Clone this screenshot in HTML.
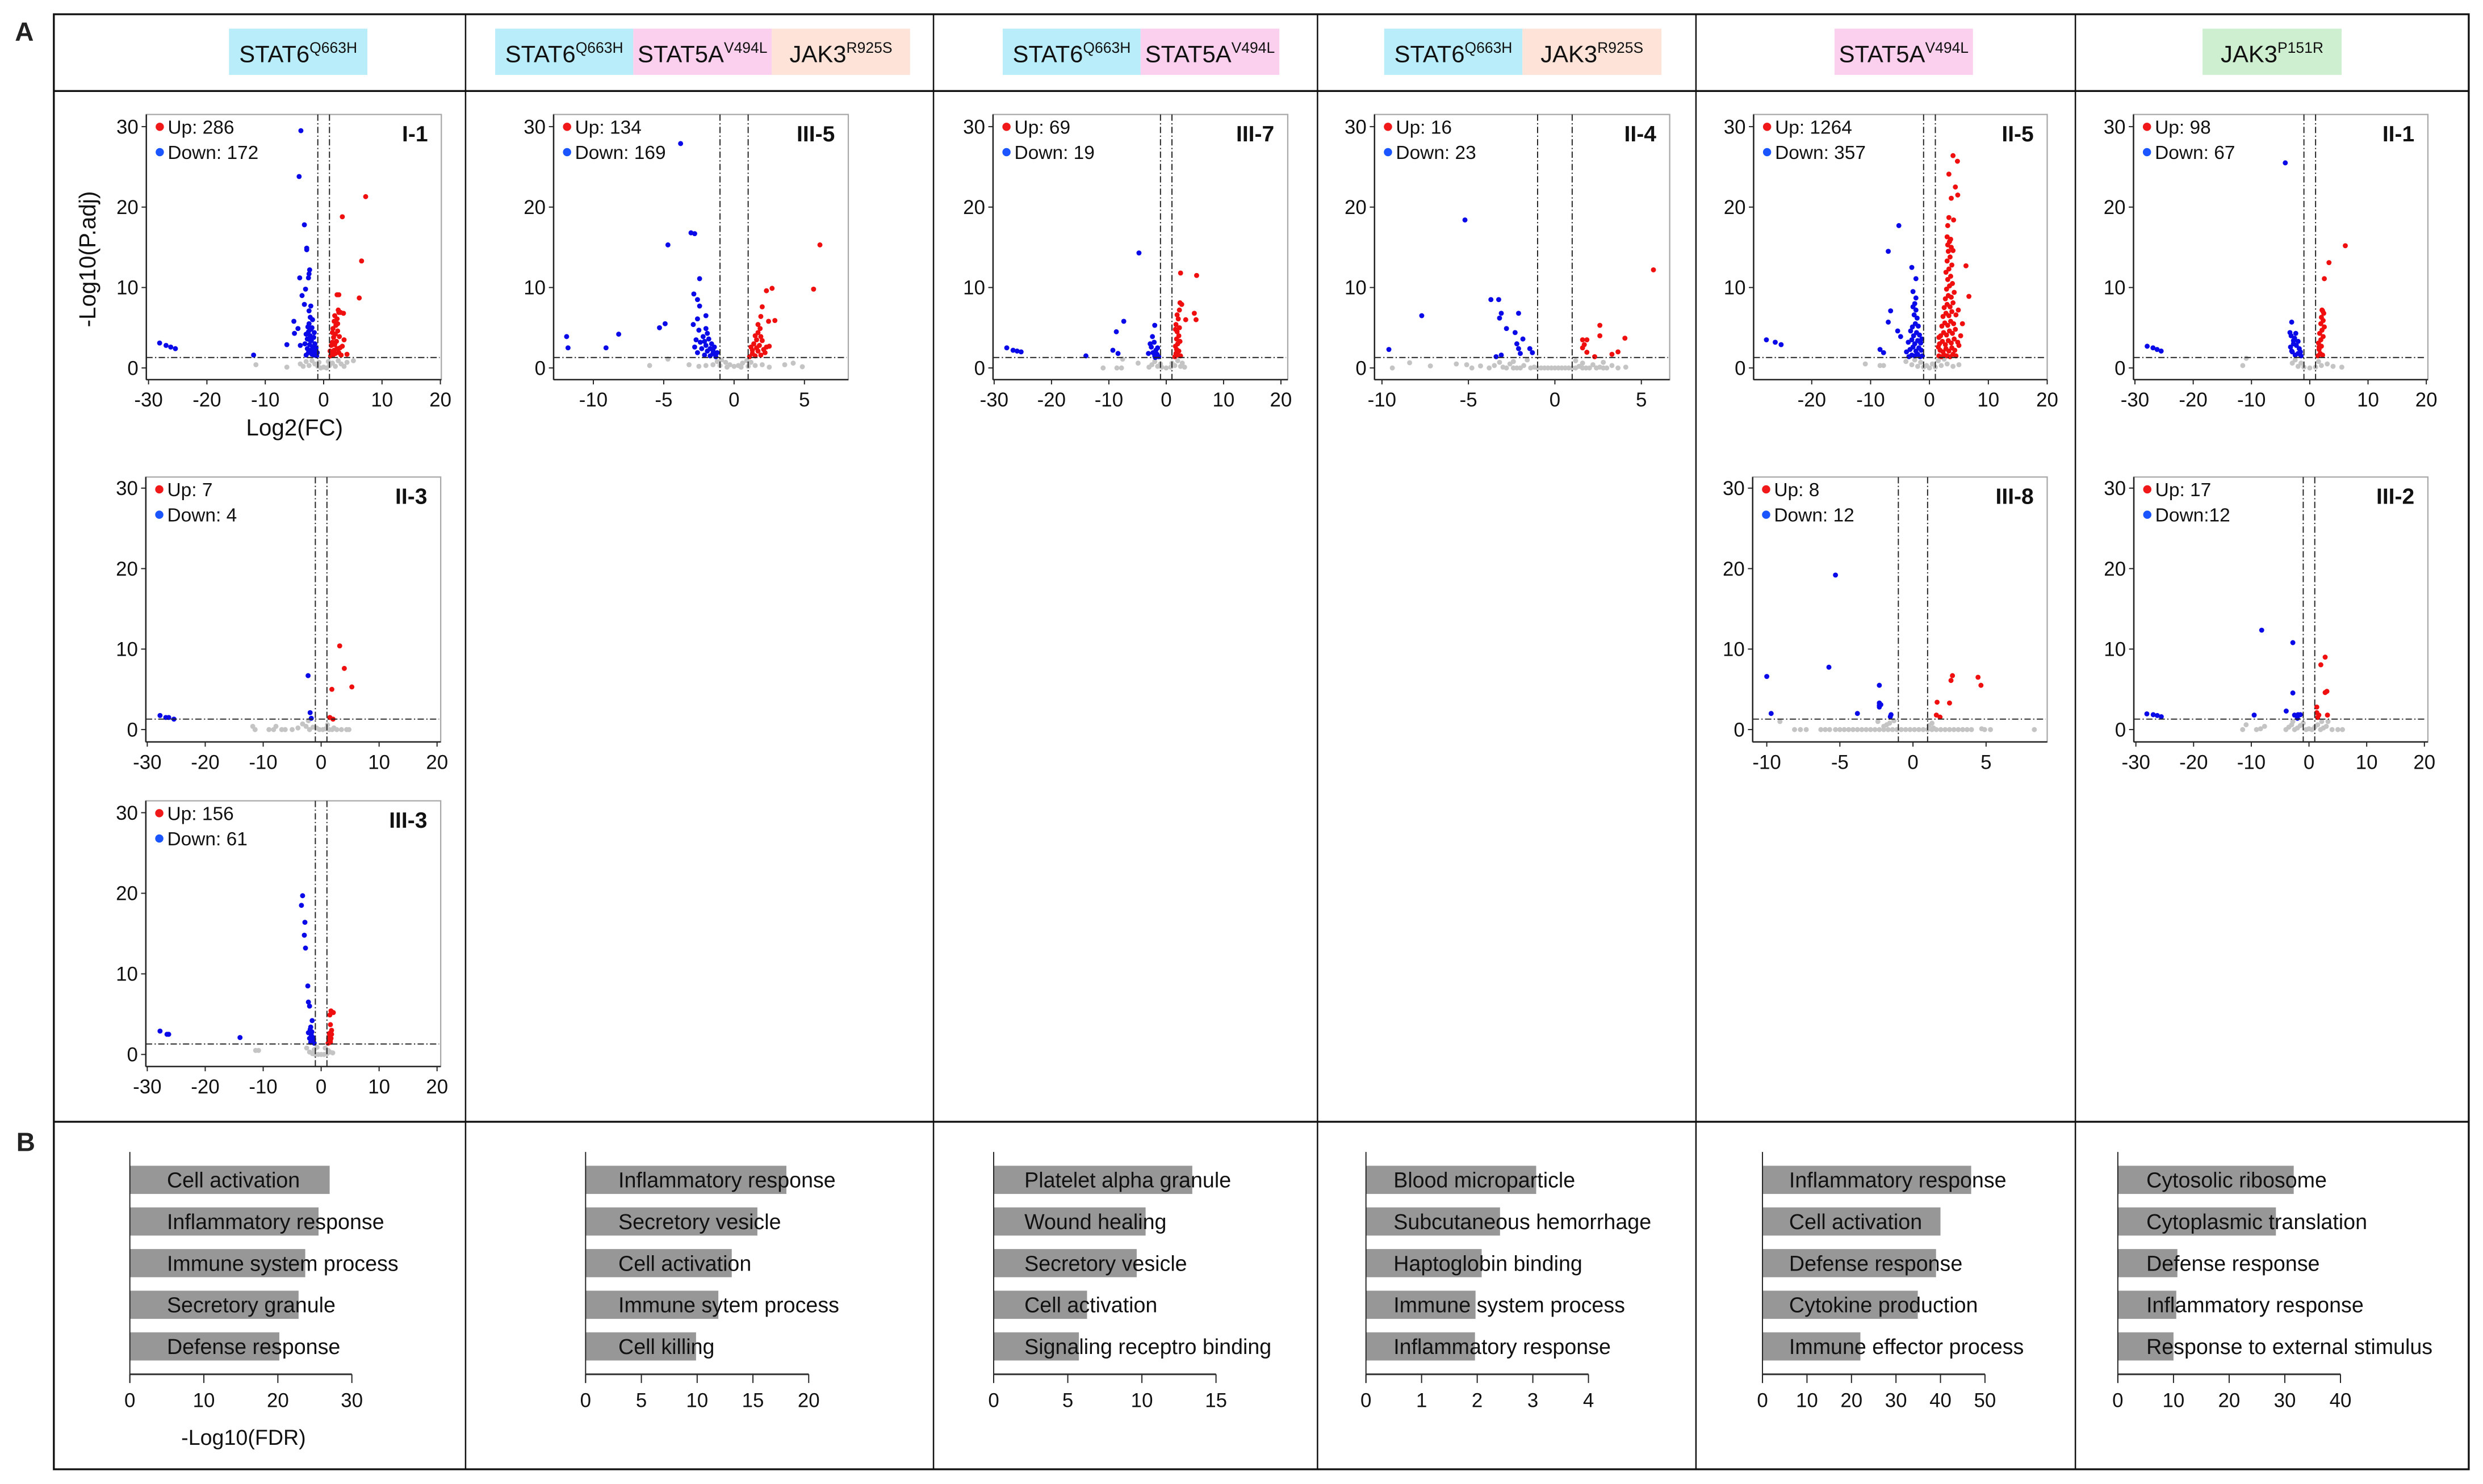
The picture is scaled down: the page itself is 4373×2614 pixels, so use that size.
<!DOCTYPE html>
<html><head><meta charset="utf-8"><style>
html,body{margin:0;padding:0;background:#fff;}
svg{display:block;font-family:"Liberation Sans",Arial,sans-serif;}
</style></head><body>
<svg id="fig" xmlns="http://www.w3.org/2000/svg" width="4373" height="2614" viewBox="0 0 1568 937.3" preserveAspectRatio="none">
<rect x="0" y="0" width="1568" height="937.3" fill="#fff"/>
<g stroke="#111" fill="none">
<rect x="34" y="9" width="1525" height="919" stroke-width="1.2"/>
<line x1="34" y1="57.5" x2="1559" y2="57.5" stroke-width="1.2"/>
<line x1="34" y1="708.5" x2="1559" y2="708.5" stroke-width="1.2"/>
<line x1="294" y1="9" x2="294" y2="928" stroke-width="0.9"/>
<line x1="589.5" y1="9" x2="589.5" y2="928" stroke-width="0.9"/>
<line x1="832" y1="9" x2="832" y2="928" stroke-width="0.9"/>
<line x1="1071" y1="9" x2="1071" y2="928" stroke-width="0.9"/>
<line x1="1310.6" y1="9" x2="1310.6" y2="928" stroke-width="0.9"/>
</g>
<text x="9.4" y="25.6" font-size="16.5" font-weight="bold" fill="#222">A</text>
<text x="10.3" y="727" font-size="16.5" font-weight="bold" fill="#222">B</text>
<g id="headers"></g>
<g id="volcanos"></g>
<g id="bars"></g>
</svg>
<script>
// ---------- volcano data: [log2FC, -log10(P.adj)] ----------
const I1_up=[[7.2,21.3],[3.2,18.8],[6.5,13.3],[6.1,8.7],[2.3,9.1],[2.6,9.1],[3.5,3.5],[4.0,1.7],[1.2,1.5],[1.4,1.9],[1.6,1.6],[1.8,2.2],[2.0,1.8],[2.3,2.4],[1.3,2.8],[1.5,3.2],[1.9,2.9],[2.2,3.3],[2.6,1.9],[2.8,2.5],[3.0,1.6],[1.7,3.8],[2.0,4.2],[2.4,4.6],[1.6,4.9],[2.1,5.3],[1.8,5.8],[2.3,6.1],[2.6,6.9],[2.9,6.9],[3.4,6.8],[2.5,7.2],[1.9,6.5],[1.5,4.4],[2.7,3.9],[3.2,2.7],[1.1,2.1],[2.4,5.5]];
const I1_down=[[-3.9,29.5],[-4.2,23.8],[-3.3,17.8],[-2.9,14.9],[-2.9,14.7],[-2.4,12.2],[-2.5,11.7],[-4.1,11.2],[-2.6,11.2],[-3.1,9.8],[-3.7,9.0],[-3.3,7.9],[-2.2,7.7],[-2.5,7.1],[-5.1,5.8],[-4.4,4.9],[-5.0,4.3],[-6.3,2.9],[-4.0,2.8],[-12,1.6],[-28.1,3.1],[-27,2.8],[-26.2,2.6],[-25.4,2.4],[-1.2,1.5],[-1.4,1.8],[-1.6,1.6],[-1.8,2.0],[-2.0,1.7],[-2.2,2.2],[-1.3,2.5],[-1.5,3.0],[-1.9,2.6],[-2.4,2.9],[-2.6,1.9],[-2.8,2.4],[-3.0,1.6],[-2.1,3.4],[-1.7,3.8],[-2.3,4.0],[-2.6,4.5],[-2.0,5.0],[-2.5,5.5],[-1.9,6.0],[-2.3,6.3],[-2.8,3.6],[-3.2,3.0],[-1.4,2.2],[-1.1,1.9],[-2.7,5.1],[-3.0,4.2],[-2.2,4.8],[-1.6,4.4],[-2.4,3.5]];
const I1_ns=[[-11.6,0.4],[-6.3,0.1],[5.1,0.9],[-4,0.5],[-3,0.8],[-2.5,0.3],[-2,0.9],[-1.5,0.5],[-1,0.2],[-0.5,0],[0,0.1],[0.5,0],[1,0.3],[1.5,0.6],[2,0.2],[2.5,0.9],[3,0.5],[3.5,0.2],[4,0.7],[-3.5,0.2],[-0.8,0.7],[0.8,0.8]];

const III5_up=[[6.1,15.3],[5.65,9.8],[2.7,9.9],[2.3,9.6],[2.0,7.6],[1.9,6.4],[2.9,5.9],[2.45,5.8],[1.7,5.4],[1.85,4.9],[2.5,2.7],[1.1,1.4],[1.3,1.8],[1.5,1.5],[1.7,2.1],[1.9,1.6],[2.1,2.3],[1.2,2.6],[1.4,3.0],[1.8,2.8],[2.2,1.9],[1.6,3.5],[2.0,3.4],[1.5,4.0],[1.7,4.4],[1.3,2.2],[2.3,2.6],[1.9,3.9],[1.6,2.5]];
const III5_down=[[-3.8,27.9],[-3.06,16.8],[-2.8,16.7],[-4.7,15.3],[-2.45,11.1],[-2.86,9.2],[-2.6,8.5],[-2.45,7.7],[-2,6.5],[-2.6,6.1],[-2.9,5.4],[-4.9,5.5],[-5.3,5.0],[-8.2,4.2],[-11.9,3.9],[-11.8,2.5],[-9.1,2.5],[-1.3,1.4],[-1.5,1.8],[-1.7,1.5],[-1.9,2.1],[-2.1,1.6],[-2.3,2.4],[-1.4,2.6],[-1.6,3.0],[-2.0,2.8],[-2.4,3.2],[-2.6,1.9],[-2.8,2.6],[-1.8,3.6],[-2.2,3.9],[-1.9,4.3],[-2.5,4.7],[-2.0,4.9],[-1.5,2.2],[-1.2,1.9],[-2.7,3.5],[-2.1,3.3],[-1.7,2.4]];
const III5_ns=[[-0.9,1.0],[-0.6,0.7],[-0.3,0.4],[0,0.2],[0.3,0.3],[0.6,0.6],[0.9,0.9],[-1.2,0.8],[1.2,0.7],[-1.5,0.4],[1.5,0.3],[-2,0.3],[2,0.4],[-0.5,0.1],[0.5,0.1],[-1,0.3],[1,0.2],[-2.5,0.2],[2.5,0.1],[4.2,0.6],[4.85,0.15],[-4.7,1.1],[-3.2,0.4],[-6,0.3],[3.6,0.4]];

const III7_up=[[2.5,11.8],[5.3,11.5],[2.4,8.1],[2.7,7.9],[4.9,6.8],[3.4,6.0],[5.2,6.0],[1.5,1.4],[1.7,1.8],[2.0,1.6],[1.8,2.3],[2.2,2.1],[1.6,2.7],[2.0,3.0],[1.8,3.6],[2.2,4.0],[1.9,4.5],[2.3,5.0],[1.7,5.4],[2.1,6.1],[1.9,6.6],[2.3,7.2],[2.5,1.5],[1.6,4.8],[2.4,3.3]];
const III7_down=[[-4.75,14.3],[-7.4,5.8],[-8.7,4.5],[-2,5.3],[-2.4,3.9],[-2.8,3.0],[-3.1,1.8],[-9.3,2.2],[-8.4,1.8],[-14,1.5],[-27.8,2.5],[-26.7,2.2],[-26,2.1],[-25.3,2.0],[-1.3,1.4],[-1.6,1.7],[-2.0,1.5],[-1.8,2.2],[-2.3,1.9],[-1.5,2.5],[-2.6,2.6],[-2.1,3.2],[-1.9,1.3]];
const III7_ns=[[-11,0],[-8.6,0],[-7.8,0],[-4.9,0.6],[-7.6,1.1],[-2.5,0.4],[-1.5,0.2],[-0.8,0.1],[0,0],[0.8,0.1],[1.5,0.3],[2.5,0.2],[3.2,0.1],[-2,0.8],[-1,0.5],[1,0.6],[2,0.9],[-3,0.1],[2.8,0.6]];

const II4_up=[[5.7,12.2],[2.6,5.3],[4.05,3.7],[2.6,4.0],[1.6,3.5],[1.85,3.5],[1.7,2.9],[1.6,2.5],[1.85,1.95],[3.65,2.0],[3.3,1.7],[2.3,1.4]];
const II4_down=[[-5.2,18.4],[-7.7,6.5],[-9.6,2.3],[-3.7,8.5],[-3.25,8.5],[-3.1,6.8],[-3.2,6.2],[-2.1,6.8],[-2.8,4.9],[-2.3,4.4],[-1.85,3.6],[-2.2,3.0],[-2.1,2.4],[-1.45,2.4],[-3.1,1.6],[-3.4,1.4],[-2,1.8],[-1.3,1.9]];
const II4_ns=[[-9.4,0],[-8.4,0.65],[-7.2,0.25],[-5.7,0.5],[-5.1,0.4],[-4.8,0],[-4.3,0.25],[-3.8,0],[-3.5,0.3],[-3.0,0.1],[-2.6,0.5],[-2.2,0],[-1.8,0.3],[-1.4,0],[-1.0,0],[-0.6,0],[-0.2,0],[0.2,0],[0.6,0],[1.0,0],[1.4,0.2],[1.8,0],[2.2,0.4],[2.6,0.1],[3.0,0],[3.3,0.3],[3.65,0],[4.1,0.1],[-2.4,0.8],[-1.6,1.0],[1.2,0.9],[1.6,0.6],[2.8,0.7],[-3.2,0.7],[-2.8,0],[-2.4,0],[-2,0],[-1.2,0.1],[-0.8,0],[-0.4,0],[0,0],[0.4,0],[0.8,0],[1.2,0],[1.6,0],[2.0,0],[2.4,0],[2.8,0]];

const II5_up=[[4,26.4],[4.75,25.7],[3.3,24.1],[4.4,22.5],[4.8,21.5],[3.7,21.1],[3.3,18.7],[4.1,18.4],[3.1,17.7],[3.6,16.0],[3.1,15.3],[4,14.6],[6.2,12.7],[6.7,8.9],[1.6,1.5],[2.0,1.4],[2.5,1.6],[3.0,1.5],[3.5,1.4],[4.0,1.7],[4.5,1.5],[1.8,2.2],[2.3,2.0],[2.8,2.4],[3.3,2.1],[3.8,2.5],[4.3,2.2],[1.7,3.0],[2.2,3.3],[2.7,2.9],[3.2,3.4],[3.7,3.1],[4.2,3.6],[4.8,3.2],[1.9,4.0],[2.4,4.4],[2.9,4.1],[3.4,4.6],[3.9,4.3],[4.4,4.8],[2.1,5.2],[2.6,5.6],[3.1,5.3],[3.6,5.8],[4.1,5.5],[2.3,6.4],[2.8,6.8],[3.3,6.5],[3.8,7.0],[4.5,6.6],[2.5,7.5],[3.0,7.9],[3.5,7.6],[4.0,8.1],[2.7,8.6],[3.2,9.0],[3.7,8.8],[4.2,9.4],[2.9,9.8],[3.4,10.2],[3.9,10.5],[3.1,11.0],[3.6,11.4],[2.8,11.9],[3.3,12.3],[3.8,12.8],[3.0,13.3],[3.5,13.8],[3.2,14.5],[3.7,15.0],[3.4,15.7],[3.0,16.3],[5.0,2.8],[5.3,4.0],[5.6,5.5],[4.9,7.2],[1.5,2.6],[1.6,3.8]];
const II5_down=[[-5.2,17.7],[-7,14.5],[-3,12.5],[-2.3,11.1],[-2.8,9.5],[-2.3,8.7],[-6.6,7.1],[-7,5.7],[-5.4,4.6],[-4.9,3.9],[-8.4,2.3],[-7.8,1.9],[-27.7,3.5],[-26.2,3.2],[-25.2,2.9],[-1.2,1.5],[-1.6,1.4],[-2.0,1.7],[-2.5,1.5],[-3.0,1.6],[-3.5,1.4],[-1.4,2.2],[-1.8,2.5],[-2.3,2.1],[-2.8,2.6],[-3.3,2.3],[-3.9,2.0],[-1.5,3.1],[-2.0,3.4],[-2.5,3.0],[-3.0,3.5],[-3.6,3.2],[-1.7,4.1],[-2.2,4.4],[-2.7,4.0],[-3.2,4.6],[-1.9,5.2],[-2.4,5.5],[-2.9,5.1],[-2.1,6.2],[-2.6,6.6],[-2.3,7.2],[-2.8,7.6],[-2.5,8.0],[-1.3,3.6]];
const II5_ns=[[-10.9,0.5],[-8.4,0.3],[-7.8,0.3],[-4,0.8],[-3,0.4],[-2,0.2],[-1,0.1],[0,0],[1,0.1],[2,0.3],[3,0.5],[4,0.2],[5,0.4],[-2.5,1.0],[-1.5,0.7],[0.5,0.5],[1.5,0.9],[2.5,1.1],[-0.5,0.3]];

const II1_up=[[6.1,15.2],[3.3,13.1],[2.5,11.1],[2.1,7.2],[1.4,1.5],[1.8,1.8],[2.2,1.6],[1.6,2.3],[2.0,2.7],[1.5,3.1],[1.9,3.5],[2.3,3.9],[1.7,4.3],[2.1,4.7],[2.5,5.1],[1.9,5.5],[2.3,5.9],[2.0,6.3],[2.4,6.8],[2.2,7.1],[1.6,2.6]];
const II1_down=[[-4.2,25.5],[-3.1,5.7],[-3.4,4.4],[-2.8,3.4],[-3.1,2.1],[-27.9,2.7],[-26.9,2.5],[-26.2,2.3],[-25.5,2.1],[-1.5,1.5],[-2.0,1.8],[-2.5,1.6],[-3.0,2.0],[-1.8,2.4],[-2.3,2.8],[-2.8,3.0],[-3.3,2.6],[-2.0,3.3],[-2.6,3.7],[-3.2,4.0],[-2.4,4.3],[-1.6,2.0]];
const II1_ns=[[-11.5,0.3],[-10.9,1.2],[5.5,0.1],[-3,0.6],[-2,0.2],[-1,0.1],[0,0],[1,0.1],[2,0.3],[3,0.5],[4,0.2],[-2.5,1.0],[1.5,0.8],[-1.5,0.6]];

const II3_up=[[3.2,10.4],[4,7.6],[5.3,5.3],[1.85,5.0],[1.5,1.5],[2.05,1.3]];
const II3_down=[[-2.25,6.7],[-1.9,2.1],[-1.7,1.4],[-27.8,1.75],[-26.8,1.5],[-26.3,1.5],[-25.4,1.3]];
const II3_ns=[[-11.8,0.4],[-11.4,0],[-9,0],[-8.2,0],[-7.8,0.4],[-6.8,0],[-6.2,0],[-5,0],[-4,0.2],[-3.2,0.7],[-2.6,0.4],[-2.2,1.1],[-1.4,0.3],[-0.3,0],[0.3,0],[1.1,0.6],[1.9,0],[2.7,0],[3.5,0],[4.4,0],[4.8,0],[-0.8,0.2],[0.8,0.1],[-2,0],[2.2,0.2],[1.4,0]];

const III3_up=[[1.7,5.4],[2.1,5.2],[1.5,4.9],[1.6,3.7],[1.8,3.0],[1.2,1.4],[1.4,1.7],[1.6,1.5],[1.3,2.0],[1.5,2.3],[1.7,2.0],[1.4,2.6],[1.8,2.5],[1.6,1.8]];
const III3_down=[[-3.2,19.7],[-3.4,18.5],[-2.8,16.4],[-2.9,14.8],[-2.7,13.2],[-2.3,8.5],[-2.2,6.5],[-2,6.0],[-1.55,4.2],[-1.8,3.4],[-27.8,2.9],[-26.6,2.5],[-26.3,2.5],[-14,2.1],[-1.2,1.4],[-1.5,1.7],[-1.8,1.5],[-1.4,2.1],[-1.7,2.4],[-2.0,2.0],[-1.6,2.8],[-1.9,3.1],[-2.2,2.7],[-1.3,1.9]];
const III3_ns=[[-11.3,0.5],[-10.8,0.5],[-2.5,0.8],[-2,0.3],[-1.5,0.1],[-1,0],[-0.5,0],[0,0],[0.5,0],[1,0.1],[1.5,0.3],[2,0.2],[-1.2,0.6],[1.2,0.5],[-0.7,0.9],[0.7,0.8]];

const III8_up=[[2.7,6.7],[2.6,6.1],[4.45,6.5],[4.65,5.5],[1.65,3.4],[2.5,3.3],[1.6,1.8],[1.85,1.55]];
const III8_down=[[-5.3,19.2],[-5.75,7.75],[-10,6.6],[-2.3,5.5],[-2.3,3.3],[-2.3,3.0],[-3.8,2.0],[-9.7,2.0],[-1.5,1.85],[-1.55,1.6],[-2.2,3.1],[-2.3,2.8]];
const III8_ns=[[-8.1,0],[-7.7,0],[-7.3,0],[-6.3,0],[-6.0,0],[-5.7,0],[-5.3,0],[-5.0,0],[-4.7,0],[-4.4,0],[-4.1,0],[-3.8,0],[-3.5,0],[-3.2,0],[-2.9,0],[-2.6,0],[-2.3,0],[-2.0,0],[-1.7,0],[-1.4,0],[-1.1,0],[-0.8,0],[-0.5,0],[-0.2,0],[0.1,0],[0.4,0],[0.7,0],[1.0,0],[1.3,0],[1.6,0],[1.9,0],[2.2,0],[2.5,0],[2.8,0],[3.1,0],[3.4,0],[3.7,0],[4.0,0],[4.9,0],[5.3,0],[8.3,0],[-9.1,1.0],[-2.4,1.0],[-1.8,0.6],[-1.6,0.8],[-1.3,1.1],[1.3,0.8],[1.1,0.5],[-2.0,0.4],[1.4,0.2],[4.7,0.1]];

const III2_up=[[2.8,9.0],[2.05,8.05],[3.1,4.75],[2.8,4.6],[1.35,2.8],[1.35,2.1],[1.7,1.8],[3.2,1.8],[1.5,1.5]];
const III2_down=[[-8.2,12.35],[-2.8,10.8],[-2.8,4.55],[-3.95,2.3],[-9.5,1.8],[-28.1,1.95],[-27,1.85],[-26.3,1.75],[-25.6,1.6],[-2.5,1.8],[-1.9,1.85],[-1.5,1.85],[-2.0,1.4]];
const III2_ns=[[-11.5,0],[-10.9,0.6],[-9.1,0],[-8.4,0.1],[-7.7,0.4],[-4,0],[-3.5,0.3],[-3,0.6],[-2.5,0],[-2,0.2],[-1.5,0.5],[-1,0.8],[-0.5,0],[0,0.1],[0.5,0],[1,0.3],[1.5,0.6],[2,0],[2.5,0.2],[3,0.4],[3.3,1.0],[4,0],[5,0],[5.8,0],[-2.8,1.0],[2.2,1.0]];

const upCounts=["286","134","69","16","1264","98","7","156","8","17"];
const downCounts=["172","169","19","23","357","67","4","61","12","12"];
const panelIds=["I-1","III-5","III-7","II-4","II-5","II-1","II-3","III-3","III-8","III-2"];
const yTicks=[0,10,20,30];
const xTicksWide=[-30,-20,-10,0,10,20];
const xTicksNarrow=[-10,-5,0,5];
const xTicksII5=[-20,-10,0,10,20];

// ---------- GO bar data ----------
const go1_terms=["Cell activation","Inflammatory response","Immune system process","Secretory granule","Defense response"];
const go1_vals=[27,25.5,23.7,22.8,20.2];
const go2_terms=["Inflammatory response","Secretory vesicle","Cell activation","Immune sytem process","Cell killing"];
const go2_vals=[18,15.4,13.1,11.9,9.9];
const go3_terms=["Platelet alpha granule","Wound healing","Secretory vesicle","Cell activation","Signaling receptro binding"];
const go3_vals=[13.4,10.25,9.65,6.3,5.75];
const go4_terms=["Blood microparticle","Subcutaneous hemorrhage","Haptoglobin binding","Immune system process","Inflammatory response"];
const go4_vals=[3.06,2.41,2.08,1.97,1.96];
const go5_terms=["Inflammatory response","Cell activation","Defense response","Cytokine production","Immune effector process"];
const go5_vals=[46.9,40.0,39.0,34.9,22.0];
const go6_terms=["Cytosolic ribosome","Cytoplasmic translation","Defense response","Inflammatory response","Response to external stimulus"];
const go6_vals=[31.6,28.4,10.7,10.5,10.0];
const goTicks1=[0,10,20,30], goTicks2=[0,5,10,15,20], goTicks3=[0,5,10,15], goTicks4=[0,1,2,3,4], goTicks5=[0,10,20,30,40,50], goTicks6=[0,10,20,30,40];

const NS="http://www.w3.org/2000/svg";
function mk(tag, attrs, parent){const e=document.createElementNS(NS,tag);for(const k in attrs)e.setAttribute(k,attrs[k]);parent.appendChild(e);return e;}

// ---------- headers ----------
const COL={cyan:"#b9edf9",pink:"#fbd0ee",peach:"#fde3d8",green:"#cef0d0"};
const headerSegs=[
 [144.6,232,COL.cyan,"STAT6","Q663H"],
 [312.7,399.9,COL.cyan,"STAT6","Q663H"],[399.9,487.4,COL.pink,"STAT5A","V494L"],[487.4,574.7,COL.peach,"JAK3","R925S"],
 [633.2,720.3,COL.cyan,"STAT6","Q663H"],[720.3,807.9,COL.pink,"STAT5A","V494L"],
 [874.1,961.4,COL.cyan,"STAT6","Q663H"],[961.4,1049.2,COL.peach,"JAK3","R925S"],
 [1158.5,1245.9,COL.pink,"STAT5A","V494L"],
 [1390.9,1478.7,COL.green,"JAK3","P151R"]];
const hg=document.getElementById('headers');
headerSegs.forEach(s=>{
  const r=mk('rect',{x:s[0],y:18.1,width:s[1]-s[0],height:29.2,fill:s[2]},hg);
  
  
  const t=mk('text',{x:(s[0]+s[1])/2,y:39.3,'text-anchor':'middle','font-size':15,fill:'#111'},hg);
  
  
  t.textContent=s[3];
  const sup=mk('tspan',{'font-size':9.5,dy:-6},t);
  sup.textContent=s[4];
});

// ---------- volcano panels ----------
const TOP={bt:72.3,bb:239.8,y0:232.4,y30:80};
const MID={bt:301.3,bb:468.6,y0:460.8,y30:308.3};
const BOT={bt:505.8,bb:673.6,y0:666,y30:513.3};
const panels=[
 {row:TOP,bl:92.4,br:278.7,xa:-30,pa:93.8,xb:20,pb:278.1,ticks:xTicksWide,up:I1_up,down:I1_down,ns:I1_ns,titles:true},
 {row:TOP,bl:349.6,br:535.7,xa:-10,pa:374.7,xb:5,pb:508,ticks:xTicksNarrow,up:III5_up,down:III5_down,ns:III5_ns},
 {row:TOP,bl:627.1,br:813.2,xa:-30,pa:627.8,xb:20,pb:808.9,ticks:xTicksWide,up:III7_up,down:III7_down,ns:III7_ns},
 {row:TOP,bl:868,br:1054.4,xa:-10,pa:872.7,xb:5,pb:1036.5,ticks:xTicksNarrow,up:II4_up,down:II4_down,ns:II4_ns},
 {row:TOP,bl:1107.4,br:1292.8,xa:-20,pa:1144.1,xb:20,pb:1292.8,ticks:xTicksII5,up:II5_up,down:II5_down,ns:II5_ns},
 {row:TOP,bl:1347.3,br:1533.2,xa:-30,pa:1348.2,xb:20,pb:1532.2,ticks:xTicksWide,up:II1_up,down:II1_down,ns:II1_ns},
 {row:MID,bl:92.1,br:278.3,xa:-30,pa:93,xb:20,pb:276,ticks:xTicksWide,up:II3_up,down:II3_down,ns:II3_ns},
 {row:BOT,bl:92.1,br:278.3,xa:-30,pa:93,xb:20,pb:276,ticks:xTicksWide,up:III3_up,down:III3_down,ns:III3_ns},
 {row:MID,bl:1106.8,br:1292.8,xa:-10,pa:1115.7,xb:5,pb:1254.2,ticks:xTicksNarrow,up:III8_up,down:III8_down,ns:III8_ns},
 {row:MID,bl:1347.5,br:1533.2,xa:-30,pa:1348.8,xb:20,pb:1531,ticks:xTicksWide,up:III2_up,down:III2_down,ns:III2_ns}];
const vg=document.getElementById('volcanos');
panels.forEach((p,i)=>{
  const R=p.row;
  const X=v=>p.pa+(v-p.xa)*(p.pb-p.pa)/(p.xb-p.xa);
  const Y=v=>R.y0+(v)*(R.y30-R.y0)/30;
  const g=mk('g',{},vg);
  
  
  const box=mk('rect',{x:p.bl,y:R.bt,width:p.br-p.bl,height:R.bb-R.bt,fill:'none',stroke:'#a8a8a8','stroke-width':0.8},g);
  
  
  mk('line',{x1:p.bl,y1:R.bt,x2:p.bl,y2:R.bb,stroke:'#222','stroke-width':0.9},g);
  mk('line',{x1:p.bl,y1:R.bb,x2:p.br,y2:R.bb,stroke:'#222','stroke-width':0.9},g);
  yTicks.forEach(t=>{
    mk('line',{x1:p.bl-3,y1:Y(t),x2:p.bl,y2:Y(t),stroke:'#222','stroke-width':0.7},g);
    const tl=mk('text',{x:p.bl-5,y:Y(t)+4.4,'text-anchor':'end','font-size':12.5,fill:'#111'},g);
    
    
    tl.textContent=t;
  });
  p.ticks.forEach(t=>{
    mk('line',{x1:X(t),y1:R.bb,x2:X(t),y2:R.bb+3,stroke:'#222','stroke-width':0.7},g);
    const tl=mk('text',{x:X(t),y:R.bb+17,'text-anchor':'middle','font-size':12.5,fill:'#111'},g);
    
    
    tl.textContent=t;
  });
  p.ns.forEach(d=>{const c=mk('circle',{cx:X(d[0]),cy:Y(d[1]),r:1.6,fill:'#c4c4c4'},g);
    
    });
  p.down.forEach(d=>{const c=mk('circle',{cx:X(d[0]),cy:Y(d[1]),r:1.6,fill:'#0a0ae8'},g);
    
    });
  p.up.forEach(d=>{const c=mk('circle',{cx:X(d[0]),cy:Y(d[1]),r:1.6,fill:'#f00f0f'},g);
    
    });
  [-1,1].forEach(v=>{const l=mk('line',{x1:X(v),y1:R.bt,x2:X(v),y2:R.bb,stroke:'#222','stroke-width':0.7,'stroke-dasharray':'4,1.5,0.8,1.5'},g);
    
    });
  const h=mk('line',{x1:p.bl,y1:Y(1.3),x2:p.br-1,y2:Y(1.3),stroke:'#222','stroke-width':0.7,'stroke-dasharray':'4,1.5,0.8,1.5'},g);
  
  
  const ly=R.bt+7.8;
  const d1=mk('circle',{cx:p.bl+8.5,cy:ly,r:2.6,fill:'#f01818'},g);
  
  
  const t1=mk('text',{x:p.bl+13.5,y:ly+4.3,'font-size':12,fill:'#111'},g);
  
  
  t1.textContent='Up: '+upCounts[i];
  const d2=mk('circle',{cx:p.bl+8.5,cy:ly+16,r:2.6,fill:'#1a55ff'},g);
  
  
  const t2=mk('text',{x:p.bl+13.5,y:ly+20.3,'font-size':12,fill:'#111'},g);
  
  
  t2.textContent=(panelIds[i]==='III-2'?'Down:':'Down: ')+downCounts[i];
  const pl=mk('text',{x:p.br-8.5,y:R.bt+17,'text-anchor':'end','font-size':14,'font-weight':'bold',fill:'#111'},g);
  
  
  pl.textContent=panelIds[i];
  if(p.titles){
    const yt=mk('text',{x:55.3,y:163.7,'text-anchor':'middle','font-size':14.5,fill:'#111',transform:'rotate(-90 55.3 163.7)',dy:5},g);
    
    
    yt.textContent='-Log10(P.adj)';
    const xt=mk('text',{x:186,y:275,'text-anchor':'middle','font-size':14.5,fill:'#111'},g);
    
    
    xt.textContent='Log2(FC)';
  }
});

// ---------- GO bars ----------
const barCharts=[
 {x0:82,px:222.2,max:30,ticks:goTicks1,terms:go1_terms,vals:go1_vals,tx:105.4,title:true},
 {x0:369.8,px:510.7,max:20,ticks:goTicks2,terms:go2_terms,vals:go2_vals,tx:390.5},
 {x0:627.5,px:767.9,max:15,ticks:goTicks3,terms:go3_terms,vals:go3_vals,tx:646.9},
 {x0:862.6,px:1003.1,max:4,ticks:goTicks4,terms:go4_terms,vals:go4_vals,tx:880},
 {x0:1113,px:1253.5,max:50,ticks:goTicks5,terms:go5_terms,vals:go5_vals,tx:1129.8},
 {x0:1337.4,px:1478,max:40,ticks:goTicks6,terms:go6_terms,vals:go6_vals,tx:1355.4}];
const bg=document.getElementById('bars');
const barTop=736.3, barStep=26.3, barH=17.8, axisY=868;
barCharts.forEach((c,ci)=>{
  const X=v=>c.x0+v*(c.px-c.x0)/c.max;
  const g=mk('g',{},bg);
  
  
  c.vals.forEach((v,k)=>{
    const y=barTop+k*barStep;
    const b=mk('rect',{x:c.x0,y:y,width:X(v)-c.x0,height:barH,fill:'#979797'},g);
    
    
    const t=mk('text',{x:c.tx,y:y+barH/2+4.8,'font-size':13.5,fill:'#111'},g);
    
    
    t.textContent=c.terms[k];
  });
  mk('line',{x1:c.x0,y1:727.6,x2:c.x0,y2:axisY+5.5,stroke:'#222','stroke-width':0.7},g);
  mk('line',{x1:c.x0,y1:axisY,x2:X(c.max),y2:axisY,stroke:'#333','stroke-width':1.1},g);
  c.ticks.forEach(t=>{
    mk('line',{x1:X(t),y1:axisY,x2:X(t),y2:axisY+5.5,stroke:'#222','stroke-width':0.7},g);
    const tl=mk('text',{x:X(t),y:888.8,'text-anchor':'middle','font-size':12.5,fill:'#111'},g);
    
    
    tl.textContent=t;
  });
  if(c.title){
    const tt=mk('text',{x:153.8,y:912.5,'text-anchor':'middle','font-size':13.5,fill:'#111'},g);
    
    
    tt.textContent='-Log10(FDR)';
  }
});
</script>
</body></html>
